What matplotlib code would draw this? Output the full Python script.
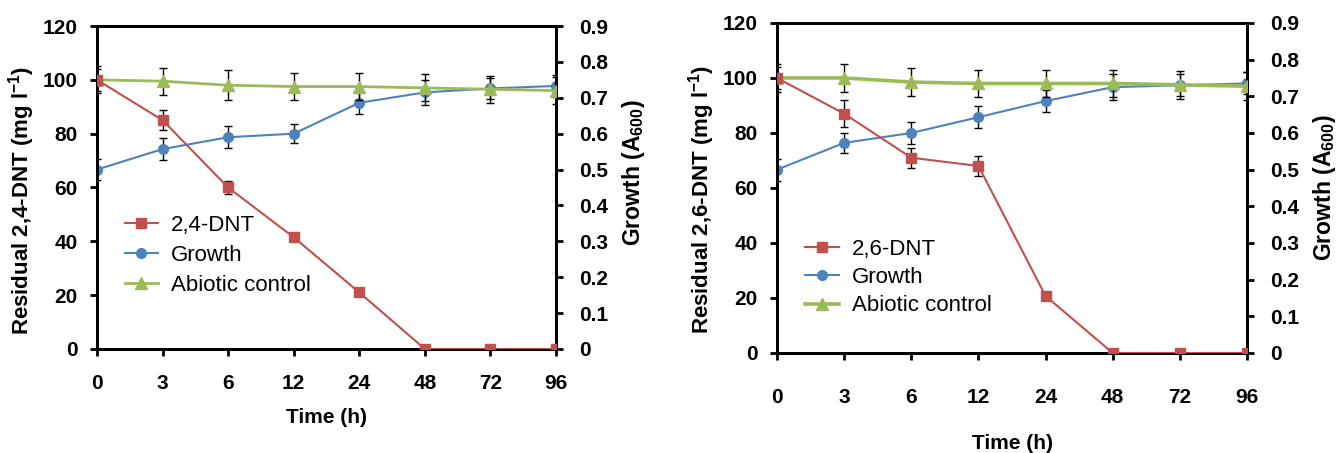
import matplotlib
matplotlib.use('Agg')
import matplotlib.pyplot as plt
from matplotlib.lines import Line2D

plt.rcParams['font.family'] = ['Liberation Sans', 'DejaVu Sans']
plt.rcParams['mathtext.fontset'] = 'custom'
plt.rcParams['mathtext.rm'] = 'Liberation Sans:bold'
plt.rcParams['mathtext.bf'] = 'Liberation Sans:bold'
plt.rcParams['mathtext.it'] = 'Liberation Sans:bold'

time_labels = ['0', '3', '6', '12', '24', '48', '72', '96']

# Panel A: 2,4-DNT
dnt24 = [100, 85, 60, 41.5, 21, 0, 0, 0]
dnt24_err = [4, 3.7, 2.5, 1.2, 1.2, 0, 0, 0]
growth24 = [0.50, 0.557, 0.59, 0.60, 0.686, 0.715, 0.726, 0.733]
growth24_err = [0.03, 0.03, 0.03, 0.027, 0.03, 0.035, 0.03, 0.03]
abiotic24 = [100, 99.5, 98, 97.5, 97.5, 97, 96.5, 96]
abiotic24_err = [5, 5, 5.5, 5, 5, 5, 5, 5]

# Panel B: 2,6-DNT
dnt26 = [100, 87, 71, 68, 20.7, 0, 0, 0]
dnt26_err = [4, 5, 3.6, 3.6, 0.8, 0, 0, 0]
growth26 = [0.50, 0.573, 0.60, 0.643, 0.687, 0.725, 0.73, 0.735]
growth26_err = [0.03, 0.027, 0.03, 0.03, 0.03, 0.035, 0.03, 0.03]
abiotic26 = [100, 100, 98.5, 98, 98, 98, 97.5, 97]
abiotic26_err = [5, 5, 5, 5, 5, 5, 5, 5]

RED = '#C0504D'
BLUE = '#4F81BD'
GREEN = '#9BBB59'

fig = plt.figure(figsize=(13.4, 4.53), dpi=100)


def panel(rect, name, dnt, dnt_err, gr, gr_err, ab, ab_err,
          xtick_pad, xlabel_pad, leg_xy, leg_spacing, green_lw,
          ylab_y, y2lab_y):
    ax = fig.add_axes(rect)
    ax2 = ax.twinx()
    x = list(range(len(time_labels)))
    eb = dict(ecolor='black', elinewidth=1, capsize=3, capthick=1)
    ax.errorbar(x, ab, yerr=ab_err, color=GREEN, marker='^', ms=8,
                lw=green_lw, zorder=3, **eb)
    ax2.errorbar(x, gr, yerr=gr_err, color=BLUE, marker='o', ms=7,
                 lw=1.5, zorder=3, **eb)
    ax.errorbar(x, dnt, yerr=dnt_err, color=RED, marker='s', ms=7,
                lw=1.5, zorder=4, **eb)
    ax.set_zorder(ax2.get_zorder() + 1)
    ax.patch.set_visible(False)

    ax.set_xlim(0, len(time_labels) - 1)
    ax.set_ylim(0, 120)
    ax2.set_ylim(0, 0.9)
    ax.set_yticks(range(0, 121, 20))
    ax2.set_yticks([i / 10 for i in range(10)])
    ax2.set_yticklabels(['0'] + ['%.1f' % (i / 10) for i in range(1, 10)])
    ax.set_xticks(x)
    ax.set_xticklabels(time_labels)

    for a in (ax, ax2):
        for s in a.spines.values():
            s.set_linewidth(2)
        a.tick_params(direction='out', length=5, width=2, labelsize=15)
        for lab in a.get_xticklabels() + a.get_yticklabels():
            lab.set_fontweight('bold')
    ax.tick_params(axis='y', pad=9)
    ax2.tick_params(axis='y', pad=12)
    ax.tick_params(axis='x', pad=xtick_pad)

    ax.set_xlabel('Time (h)', fontsize=15, fontweight='bold', labelpad=xlabel_pad)
    ax.set_ylabel('Residual ' + name + r' (mg l$^{-1}$)', fontsize=16,
                  fontweight='bold', labelpad=4)
    ax.yaxis.label.set_y(ylab_y)
    ax2.set_ylabel(r'Growth (A$_{600}$)', fontsize=16.5, fontweight='bold',
                   labelpad=8)
    ax2.yaxis.label.set_y(y2lab_y)

    handles = [
        Line2D([], [], color=RED, marker='s', ms=7, lw=1.5),
        Line2D([], [], color=BLUE, marker='o', ms=7, lw=1.5),
        Line2D([], [], color=GREEN, marker='^', ms=8, lw=green_lw),
    ]
    ax.legend(handles, [name, 'Growth', 'Abiotic control'], loc='upper left',
              bbox_to_anchor=leg_xy, frameon=False, fontsize=16,
              borderpad=0, borderaxespad=0, handlelength=1.5,
              handletextpad=0.6, labelspacing=leg_spacing)
    return ax


panel([0.0724, 0.2296, 0.3425, 0.713], '2,4-DNT', dnt24, dnt24_err,
      growth24, growth24_err, abiotic24, abiotic24_err,
      xtick_pad=13, xlabel_pad=11, leg_xy=(0.06, 0.415), leg_spacing=0.41,
      green_lw=2, ylab_y=0.46, y2lab_y=0.545)
panel([0.5799, 0.2208, 0.3507, 0.7285], '2,6-DNT', dnt26, dnt26_err,
      growth26, growth26_err, abiotic26, abiotic26_err,
      xtick_pad=20, xlabel_pad=20, leg_xy=(0.06, 0.345), leg_spacing=0.32,
      green_lw=2.6, ylab_y=0.465, y2lab_y=0.5)

fig.savefig('out.png', dpi=100)
